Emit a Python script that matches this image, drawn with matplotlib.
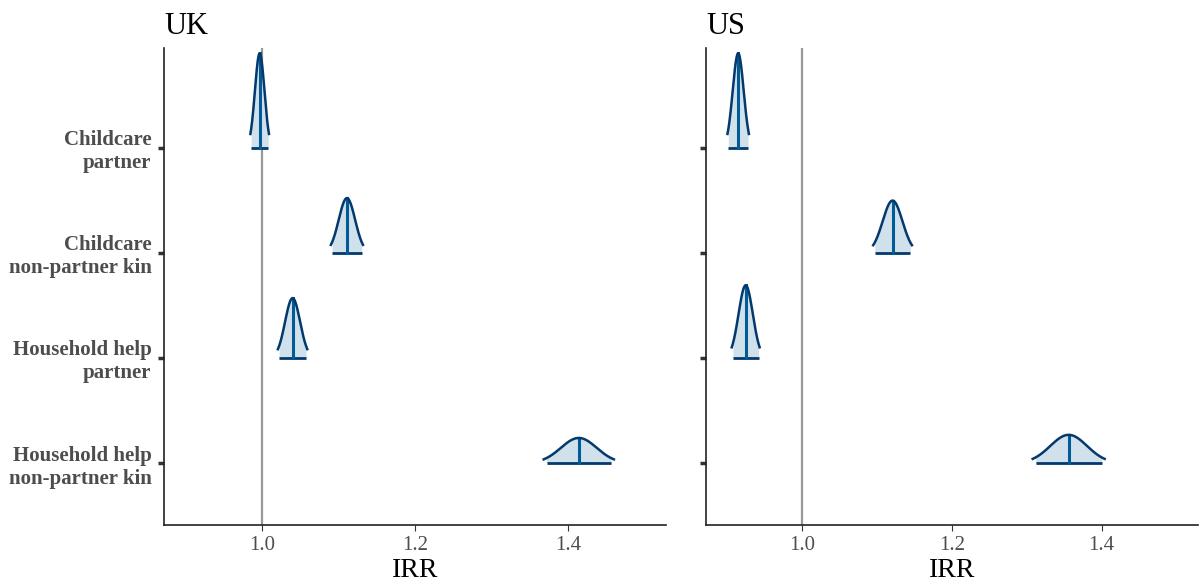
import numpy as np
import matplotlib
matplotlib.use("Agg")
import matplotlib.pyplot as plt

plt.rcParams['font.family'] = ['Liberation Serif', 'DejaVu Serif']

# ---- data ----
params = ["Childcare\npartner", "Childcare\nnon-partner kin",
          "Household help\npartner", "Household help\nnon-partner kin"]
countries = ["UK", "US"]
uk_median = [0.997, 1.111, 1.040, 1.414]
uk_sd = [0.0062, 0.0107, 0.0098, 0.0234]
us_median = [0.915, 1.121, 0.925, 1.356]
us_sd = [0.0073, 0.0132, 0.0095, 0.0245]
xticks = [1.0, 1.2, 1.4]

medians = {"UK": uk_median, "US": us_median}
sds = {"UK": uk_sd, "US": us_sd}

FILL = "#d1e1ec"
OUTLINE = "#03396c"
MEDCOL = "#005b96"
GRAY_TXT = "#4d4d4d"

fig = plt.figure(figsize=(11.99, 5.86), dpi=100)
axes = [fig.add_axes([0.1368, 0.1041, 0.4187, 0.8140]),
        fig.add_axes([0.5888, 0.1041, 0.4100, 0.8140])]

ypos = [4, 3, 2, 1]
z_outer = 1.96
z_inner = 1.8

for ax, c in zip(axes, countries):
    med = medians[c]
    sd = sds[c]
    max_pdf = max(1.0 / (s * np.sqrt(2 * np.pi)) for s in sd)
    scale = 0.9 / max_pdf
    ax.axvline(1.0, color="#999999", lw=1.6, zorder=1)
    for m, s, y in zip(med, sd, ypos):
        xo = np.linspace(m - z_outer * s, m + z_outer * s, 200)
        yo = np.exp(-0.5 * ((xo - m) / s) ** 2) / (s * np.sqrt(2 * np.pi)) * scale
        xi = np.linspace(m - z_inner * s, m + z_inner * s, 200)
        yi = np.exp(-0.5 * ((xi - m) / s) ** 2) / (s * np.sqrt(2 * np.pi)) * scale
        ax.fill_between(xi, y, y + yi, color=FILL, lw=0, zorder=2)
        ax.plot([xi[0], xi[-1]], [y, y], color=OUTLINE, lw=2.0, zorder=3,
                solid_capstyle="butt")
        hm = 1.0 / (s * np.sqrt(2 * np.pi)) * scale
        ax.plot([m, m], [y, y + hm], color=MEDCOL, lw=2.2, zorder=3)
        ax.plot(xo, y + yo, color=OUTLINE, lw=1.8, zorder=4)
    ax.set_xlim(0.872, 1.528)
    ax.set_ylim(0.41, 4.95)
    for sp in ["top", "right"]:
        ax.spines[sp].set_visible(False)
    for sp in ["left", "bottom"]:
        ax.spines[sp].set_linewidth(1.2)
        ax.spines[sp].set_color("#222222")
    ax.set_xticks(xticks)
    ax.set_xticklabels([f"{v:.1f}" for v in xticks], fontsize=15, color=GRAY_TXT)
    ax.tick_params(axis="x", length=4, width=0.8, color="#333333", pad=4)
    ax.set_yticks(ypos)
    ax.tick_params(axis="y", length=4, width=2.5, color="#333333", pad=5)
    if c == "UK":
        ax.set_yticklabels(params, fontsize=15, fontweight="bold", color=GRAY_TXT,
                           linespacing=1.2)
    else:
        ax.set_yticklabels([])
    ax.set_xlabel("IRR", fontsize=20, labelpad=2)
    ax.set_title(c, loc="left", fontsize=22, pad=10)

fig.savefig("out.png", dpi=100)
